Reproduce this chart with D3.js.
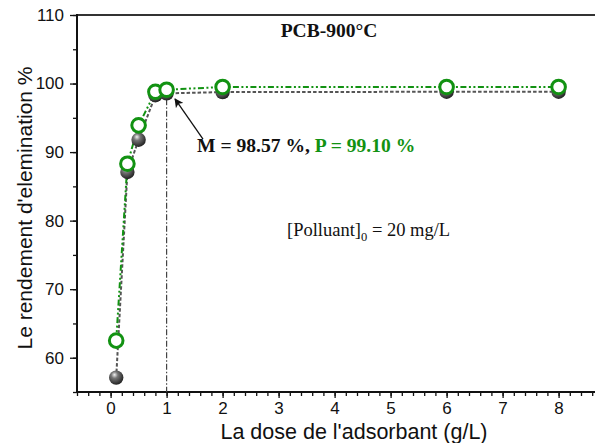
<!DOCTYPE html>
<html>
<head>
<meta charset="utf-8">
<script src="https://cdn.jsdelivr.net/npm/d3@7"></script>
<style>
  html, body { margin: 0; padding: 0; background: #fff; }
  svg { display: block; }
</style>
</head>
<body>
<svg id="chart" width="595" height="443"></svg>
<script>
// Adsorbent dose (g/L) and removal efficiency (%) for the two pollutants
const doses = [0.1, 0.3, 0.5, 0.8, 1, 2, 6, 8];
const seriesM = [57.1, 87.1, 91.8, 98.3, 98.57, 98.75, 98.8, 98.8];
const seriesP = [62.5, 88.3, 93.9, 98.8, 99.10, 99.5, 99.5, 99.5];
const xTicks = [0, 1, 2, 3, 4, 5, 6, 7, 8];
const yTicks = [60, 70, 80, 90, 100, 110];
const optimumDose = 1;
const optimumM = 98.57;
const optimumP = 99.10;

(function draw() {
  const svg = d3.select("#chart");
  const sans = "'Liberation Sans', Arial, sans-serif";
  const serif = "'Liberation Serif', 'Times New Roman', serif";
  const green = "#129212";

  const plotLeft = 77, plotTop = 15, plotBottom = 392;
  const x = d3.scaleLinear().domain([-0.6, 8.7]).range([plotLeft, plotLeft + 9.3 * 56]);
  const y = d3.scaleLinear().domain([55, 110]).range([plotBottom, plotTop]);

  // sphere shading for the M markers
  const defs = svg.append("defs");
  const grad = defs.append("radialGradient").attr("id", "sphere")
    .attr("cx", "40%").attr("cy", "35%").attr("r", "65%").attr("fx", "38%").attr("fy", "30%");
  grad.append("stop").attr("offset", "0%").attr("stop-color", "#f2f2f2");
  grad.append("stop").attr("offset", "35%").attr("stop-color", "#777");
  grad.append("stop").attr("offset", "100%").attr("stop-color", "#222");

  // axes
  const xMinor = d3.range(-0.6, 8.7, 0.2).map(v => +v.toFixed(1));
  const yMinor = d3.range(55, 111, 5);

  const gx = svg.append("g").attr("transform", `translate(0,${plotBottom})`)
    .call(d3.axisBottom(x).tickValues(xMinor).tickSize(4).tickFormat(""));
  gx.select(".domain").remove();
  const gxMaj = svg.append("g").attr("transform", `translate(0,${plotBottom})`)
    .call(d3.axisBottom(x).tickValues(xTicks).tickSize(6).tickPadding(4).tickFormat(d3.format("d")));
  gxMaj.select(".domain").remove();
  gxMaj.selectAll("text").attr("font-family", sans).attr("font-size", 17).attr("fill", "#111");

  const gy = svg.append("g").attr("transform", `translate(${plotLeft},0)`)
    .call(d3.axisLeft(y).tickValues(yMinor).tickSize(4).tickFormat(""));
  gy.select(".domain").remove();
  const gyMaj = svg.append("g").attr("transform", `translate(${plotLeft},0)`)
    .call(d3.axisLeft(y).tickValues(yTicks).tickSize(7).tickPadding(6).tickFormat(d3.format("d")));
  gyMaj.select(".domain").remove();
  gyMaj.selectAll("text").attr("font-family", sans).attr("font-size", 17).attr("fill", "#111");
  svg.selectAll("g.tick line").attr("stroke", "#111").attr("stroke-width", 1.3);

  // frame lines
  svg.append("line").attr("x1", plotLeft).attr("x2", 595).attr("y1", plotBottom).attr("y2", plotBottom)
    .attr("stroke", "#111").attr("stroke-width", 2);
  svg.append("line").attr("x1", plotLeft).attr("x2", 595).attr("y1", plotTop).attr("y2", plotTop)
    .attr("stroke", "#333").attr("stroke-width", 2.2);
  svg.append("line").attr("x1", plotLeft).attr("x2", plotLeft).attr("y1", plotTop - 1).attr("y2", plotBottom + 1)
    .attr("stroke", "#111").attr("stroke-width", 2);

  // axis titles
  svg.append("text").attr("x", 354).attr("y", 438.5).attr("text-anchor", "middle")
    .attr("font-family", sans).attr("font-size", 21.5).attr("fill", "#111")
    .text("La dose de l'adsorbant (g/L)");
  svg.append("text").attr("transform", "translate(32,208) rotate(-90)").attr("text-anchor", "middle")
    .attr("font-family", sans).attr("font-size", 21).attr("fill", "#111")
    .text("Le rendement d'elemination %");

  // optimum dose marker line
  svg.append("line").attr("x1", x(optimumDose)).attr("x2", x(optimumDose))
    .attr("y1", y(optimumM) + 6).attr("y2", plotBottom)
    .attr("stroke", "#444").attr("stroke-width", 1.2).attr("stroke-dasharray", "6,2,1.5,2");

  // series lines
  const line = (vals) => d3.line().x((d, i) => x(doses[i])).y(d => y(d))(vals);
  svg.append("path").attr("d", line(seriesM)).attr("fill", "none")
    .attr("stroke", "#555").attr("stroke-width", 2).attr("stroke-dasharray", "3.5,2");
  svg.append("path").attr("d", line(seriesP)).attr("fill", "none")
    .attr("stroke", green).attr("stroke-width", 2).attr("stroke-dasharray", "6,2.5,2,2.5,2,2.5");

  // markers
  svg.append("g").selectAll("circle").data(seriesM).join("circle")
    .attr("cx", (d, i) => x(doses[i])).attr("cy", d => y(d)).attr("r", 7.2)
    .attr("fill", "url(#sphere)");
  svg.append("g").selectAll("circle").data(seriesP).join("circle")
    .attr("cx", (d, i) => x(doses[i])).attr("cy", d => y(d)).attr("r", 6.8)
    .attr("fill", "#fff").attr("stroke", green).attr("stroke-width", 3);

  // title
  svg.append("text").attr("x", 329).attr("y", 37).attr("text-anchor", "middle")
    .attr("font-family", serif).attr("font-weight", "bold").attr("font-size", 19.5).attr("fill", "#111")
    .text("PCB-900°C");

  // annotation with arrow
  defs.append("marker").attr("id", "arrow").attr("viewBox", "0 0 10 10").attr("refX", 9).attr("refY", 5)
    .attr("markerWidth", 9).attr("markerHeight", 9).attr("orient", "auto-start-reverse")
    .attr("markerUnits", "userSpaceOnUse")
    .append("path").attr("d", "M0,0 L10,5 L0,10 L2.5,5 Z").attr("fill", "#111");
  svg.append("line").attr("x1", x(1.65)).attr("y1", y(91.9)).attr("x2", x(1.15)).attr("y2", y(97.75))
    .attr("stroke", "#111").attr("stroke-width", 1.3).attr("marker-end", "url(#arrow)");

  const ann = svg.append("text").attr("x", 197).attr("y", 152)
    .attr("font-family", serif).attr("font-weight", "bold").attr("font-size", 19.6);
  ann.append("tspan").attr("fill", "#111").text(`M = ${optimumM.toFixed(2)} %, `);
  ann.append("tspan").attr("fill", green).text(`P = ${optimumP.toFixed(2)} %`);

  const conc = svg.append("text").attr("x", 287).attr("y", 236)
    .attr("font-family", serif).attr("font-size", 18.5).attr("fill", "#111");
  conc.append("tspan").text("[Polluant]");
  conc.append("tspan").attr("font-size", 12.5).attr("dy", 4.5).text("0");
  conc.append("tspan").attr("dy", -4.5).text(" = 20 mg/L");
})();
</script>
</body>
</html>
